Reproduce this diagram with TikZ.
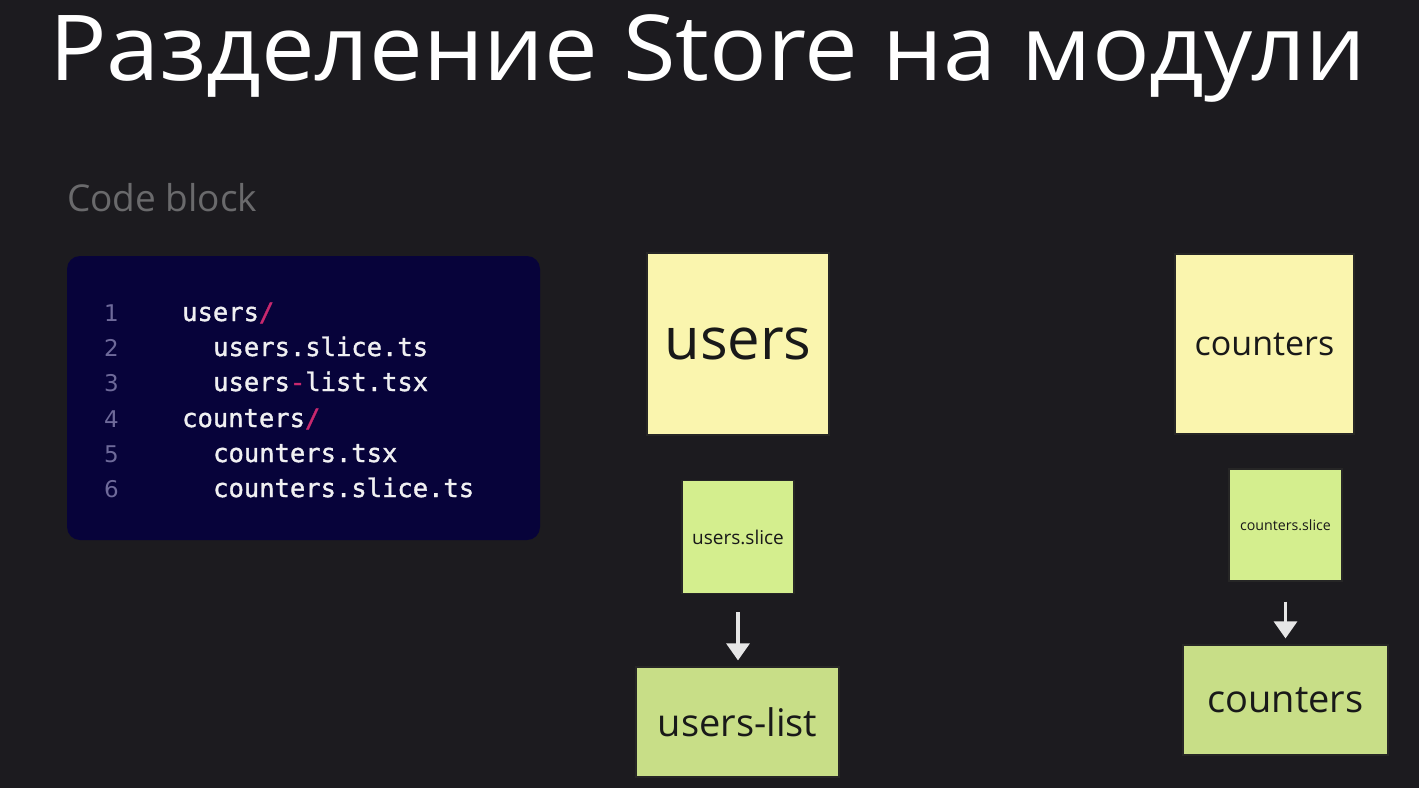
\documentclass[tikz,border=0pt]{standalone}
\usepackage{fontspec}
\setmainfont{Open Sans}
\newfontfamily\codefont[FakeBold=1.3]{DejaVu Sans Mono}
\newfontfamily\numfont{DejaVu Sans}
\usetikzlibrary{arrows.meta}

\definecolor{bg}{HTML}{1C1B1F}
\definecolor{codebg}{HTML}{07033A}
\definecolor{lineno}{HTML}{6E6A9A}
\definecolor{codefg}{HTML}{F0F0F2}
\definecolor{accent}{HTML}{C8286E}
\definecolor{hint}{HTML}{6A6A6C}
\definecolor{notey}{HTML}{FAF5AE}
\definecolor{noteg}{HTML}{D4EE8E}
\definecolor{noteG}{HTML}{C8DE87}
\definecolor{arrowc}{HTML}{E6E6E6}

\newcommand{\fsz}[1]{\fontsize{#1}{#1}\selectfont}

\tikzset{
  note/.style={draw=black!85, line width=1.2pt, inner sep=0pt, text=black!90, align=center},
  yellownote/.style={note, fill=notey},
  greennote/.style={note, fill=noteg},
  bignote/.style={note, fill=noteG},
  codeline/.style={anchor=base west, inner sep=0pt, text=codefg, font=\codefont\fsz{25.5}},
  linenum/.style={anchor=base west, inner sep=0pt, text=lineno, font=\numfont\fsz{23}},
  flow/.style={draw=arrowc, line width=3.2pt, -{Triangle[width=23pt,length=17pt]}}
}

\begin{document}
\begin{tikzpicture}[x=1pt,y=-1pt]
  % canvas
  \fill[bg] (0,0) rectangle (1419,788);
  \useasboundingbox (0,0) rectangle (1419,788);

  % heading
  \node[anchor=base west, inner sep=0pt, text=white, font=\fsz{91}] (title) at (49,80) {\scalebox{1.052}[1]{Разделение Store на модули}};
  \node[anchor=base west, inner sep=0pt, text=hint, font=\fsz{37}] (caption) at (67,211) {Code block};

  % code panel
  \fill[codebg, rounded corners=13pt] (67,256) rectangle (540,540);
  \foreach \n/\yy in {1/321,2/356,3/391,4/427,5/462,6/497}
    \node[linenum] (num\n) at (104,\yy) {\n};
  \node[codeline] (c1) at (182,321) {users\textcolor{accent}{/}};
  \node[codeline] (c2) at (213,356) {users.slice.ts};
  \node[codeline] (c3) at (213,391) {users\textcolor{accent}{-}list.tsx};
  \node[codeline] (c4) at (182,427) {counters\textcolor{accent}{/}};
  \node[codeline] (c5) at (213,462) {counters.tsx};
  \node[codeline] (c6) at (213,497) {counters.slice.ts};

  % users column
  \node[yellownote, minimum width=182pt, minimum height=182pt, font=\fsz{58}] (users) at (738,344) {users};
  \node[greennote, minimum width=112pt, minimum height=113pt, font=\fsz{19}] (uslice) at (738,537) {users.slice};
  \node[bignote, minimum width=203pt, minimum height=110pt, font=\fsz{38}] (ulist) at (737.5,722) {users-list};
  \draw[flow, shorten <=18pt, shorten >=6pt] (uslice.south) -- (uslice.south |- ulist.north);

  % counters column
  \node[yellownote, minimum width=179pt, minimum height=180pt, font=\fsz{34}] (counters) at (1264.5,344) {counters};
  \node[greennote, minimum width=113pt, minimum height=112pt, font=\fsz{14.2}] (cslice) at (1285.5,525) {counters.slice};
  \node[bignote, minimum width=205pt, minimum height=110pt, font=\fsz{38}] (cview) at (1285.5,700) {counters};
  \draw[flow, shorten <=20pt, shorten >=6pt] (cslice.south) -- (cslice.south |- cview.north);
\end{tikzpicture}
\end{document}
